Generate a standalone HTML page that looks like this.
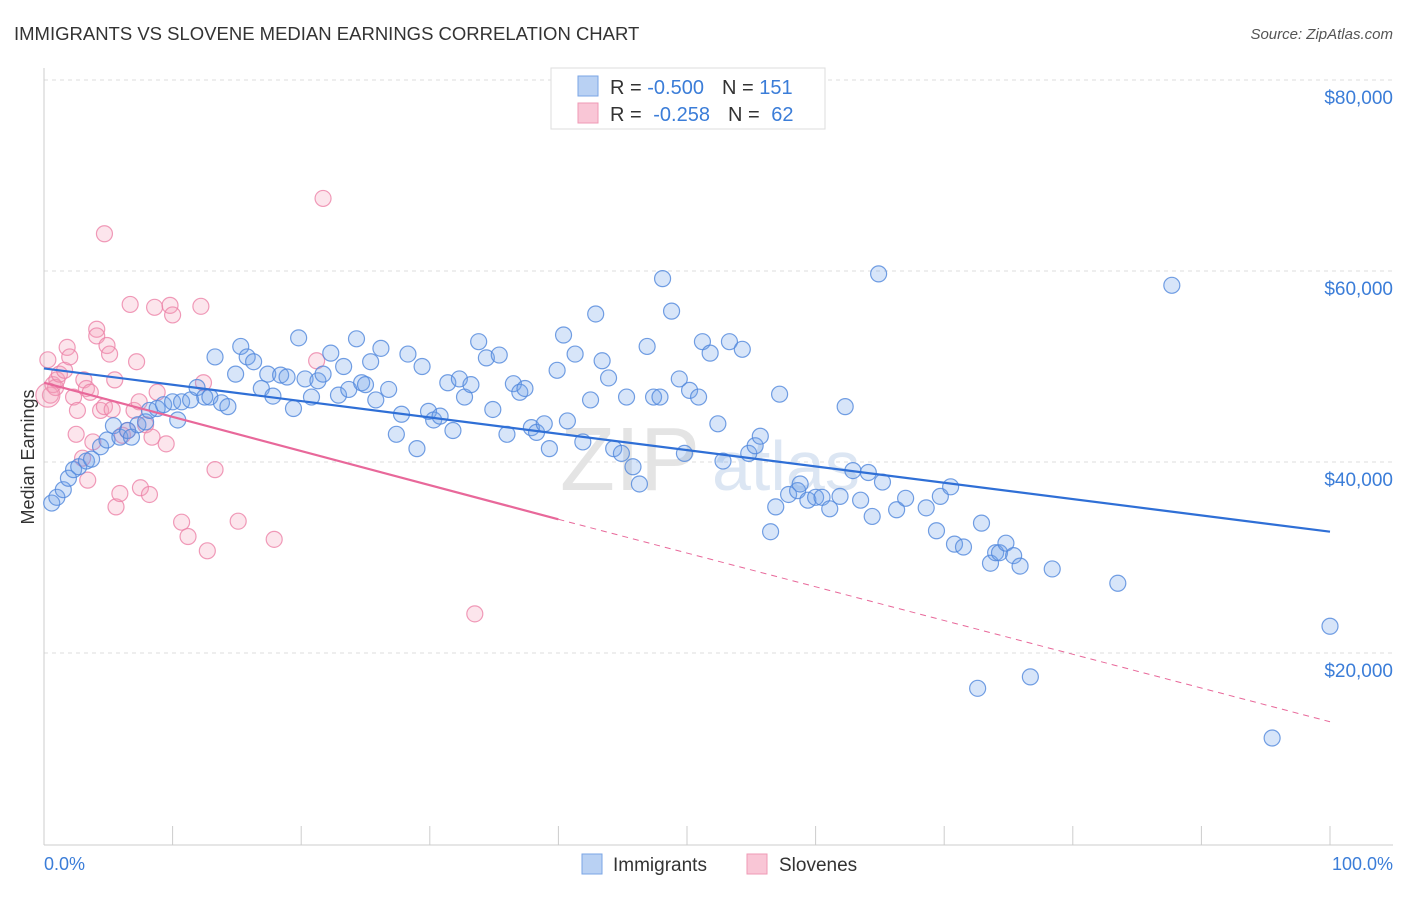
<!DOCTYPE html>
<html><head><meta charset="utf-8"><style>
body{margin:0;background:#fff;font-family:"Liberation Sans",sans-serif;}
svg text{font-family:"Liberation Sans",sans-serif;}
</style></head><body>
<svg id="chart" width="1406" height="892">
<text x="14" y="40" font-size="18.5" fill="#333">IMMIGRANTS VS SLOVENE MEDIAN EARNINGS CORRELATION CHART</text>
<text x="1393" y="39" font-size="15" fill="#555" font-style="italic" text-anchor="end">Source: ZipAtlas.com</text>
<text x="34" y="457" font-size="18" fill="#333" transform="rotate(-90 34 457)" text-anchor="middle">Median Earnings</text>
<g id="grid"></g>
<text x="700" y="490" font-size="90" fill="#e4e4e4" text-anchor="end" font-family="Liberation Serif">ZIP</text>
<text x="712" y="490" font-size="70" fill="#dce6f3">atlas</text>
<g id="marks"></g>
<g>
<rect x="551" y="68" width="274" height="61" fill="#fff" stroke="#ddd"/>
<rect x="578" y="76" width="20" height="20" fill="#b9d1f3" stroke="#7aa5e6"/>
<rect x="578" y="103" width="20" height="20" fill="#f9c6d6" stroke="#ef9ab5"/>
<text x="610" y="94" font-size="20" fill="#333">R = <tspan fill="#3b7dd8">-0.500</tspan><tspan dx="18">N = </tspan><tspan fill="#3b7dd8">151</tspan></text>
<text x="610" y="121" font-size="20" fill="#333">R = <tspan fill="#3b7dd8" dx="6">-0.258</tspan><tspan dx="18">N = </tspan><tspan fill="#3b7dd8" dx="6">62</tspan></text>
</g>
<g>
<rect x="582" y="854" width="20" height="20" fill="#b9d1f3" stroke="#7aa5e6"/>
<text x="613" y="871" font-size="19" fill="#333">Immigrants</text>
<rect x="747" y="854" width="20" height="20" fill="#f9c6d6" stroke="#ef9ab5"/>
<text x="779" y="871" font-size="19" fill="#333">Slovenes</text>
</g>
<text x="44" y="870" font-size="18" fill="#3b7dd8">0.0%</text>
<text x="1393" y="870" font-size="18" fill="#3b7dd8" text-anchor="end">100.0%</text>
</svg>
<script>
const yTicks=[20000,40000,60000,80000];
const yTickLabels=["$20,000","$40,000","$60,000","$80,000"];
const xTicks=[0,10,20,30,40,50,60,70,80,90,100];
const blueX=[0.6,1.0,1.5,1.9,2.3,2.7,3.3,3.7,4.4,4.9,5.4,5.9,6.5,6.8,7.3,7.9,8.2,8.8,9.3,10.0,10.4,10.7,11.4,11.9,12.5,12.9,13.3,13.8,14.3,14.9,15.3,15.8,16.3,16.9,17.4,17.8,18.4,18.9,19.4,19.8,20.3,20.8,21.3,21.7,22.3,22.9,23.3,23.7,24.3,24.7,25.0,25.4,25.8,26.2,26.8,27.4,27.8,28.3,29.0,29.4,29.9,30.3,30.8,31.4,31.8,32.3,32.7,33.2,33.8,34.4,34.9,35.4,36.0,36.5,37.0,37.4,37.9,38.3,38.9,39.3,39.9,40.4,40.7,41.3,41.9,42.5,42.9,43.4,43.9,44.3,44.9,45.3,45.8,46.3,46.9,47.4,47.9,48.1,48.8,49.4,49.8,50.2,50.9,51.2,51.8,52.4,52.8,53.3,54.3,54.8,55.3,55.7,56.5,56.9,57.2,57.9,58.6,58.8,59.4,60.0,60.5,61.1,61.9,62.3,62.9,63.5,64.1,64.4,64.9,65.2,66.3,67.0,68.6,69.4,69.7,70.5,70.8,71.5,72.9,73.6,74.0,74.3,74.8,75.4,75.9,78.4,83.5,72.6,76.7,87.7,100,95.5];
const blueY=[35.7,36.3,37.1,38.3,39.2,39.5,40.1,40.3,41.6,42.3,43.8,42.6,43.3,42.6,43.9,44.2,45.4,45.6,46.0,46.3,44.4,46.3,46.5,47.8,46.8,46.8,51.0,46.2,45.8,49.2,52.1,51.0,50.5,47.7,49.2,46.9,49.1,48.9,45.6,53.0,48.7,46.8,48.5,49.2,51.4,47.0,50.0,47.6,52.9,48.3,48.1,50.5,46.5,51.9,47.6,42.9,45.0,51.3,41.4,50.0,45.3,44.4,44.8,48.3,43.3,48.7,46.8,48.1,52.6,50.9,45.5,51.2,42.9,48.2,47.3,47.7,43.6,43.1,44.0,41.4,49.6,53.3,44.3,51.3,42.1,46.5,55.5,50.6,48.8,41.4,40.9,46.8,39.5,37.7,52.1,46.8,46.8,59.2,55.8,48.7,40.9,47.5,46.8,52.6,51.4,44.0,40.1,52.6,51.8,40.9,41.7,42.7,32.7,35.3,47.1,36.6,37.0,37.7,36.0,36.3,36.3,35.1,36.4,45.8,39.1,36.0,38.9,34.3,59.7,37.9,35.0,36.2,35.2,32.8,36.4,37.4,31.4,31.1,33.6,29.4,30.5,30.5,31.5,30.2,29.1,28.8,27.3,16.3,17.5,58.5,22.8,11.1];
const pinkX=[0.3,0.5,0.7,0.9,1.0,1.2,1.6,1.8,2.0,2.3,2.5,2.6,3.0,3.1,3.3,3.4,3.6,3.8,4.1,4.1,4.4,4.7,4.7,4.9,5.1,5.3,5.5,5.6,5.9,6.1,6.5,6.7,7.0,7.2,7.4,7.5,7.9,8.2,8.4,8.6,8.8,9.5,9.8,10.0,10.7,11.2,12.2,12.4,12.7,13.3,15.1,17.9,21.2,21.7,33.5,0.3];
const pinkY=[50.7,47.0,48.1,47.8,48.6,49.2,49.6,52.0,51.0,46.8,42.9,45.4,40.4,48.6,47.7,38.1,47.3,42.1,53.9,53.2,45.4,63.9,45.8,52.2,51.3,45.5,48.6,35.3,36.7,42.8,43.3,56.5,45.4,50.5,46.3,37.3,43.9,36.6,42.6,56.2,47.3,41.9,56.4,55.4,33.7,32.2,56.3,48.3,30.7,39.2,33.8,31.9,50.6,67.6,24.1,47.0];
const blueTrendX=[0,100], blueTrendY=[49.8,32.7];
const pinkTrendX=[0,40,100], pinkTrendY=[48.3,34.0,12.8];
const NS="http://www.w3.org/2000/svg";
const xs=p=>44+p*12.86;
const ys=v=>844-v*9.55;
function mk(tag,attrs,parent){const e=document.createElementNS(NS,tag);for(const k in attrs)e.setAttribute(k,attrs[k]);parent.appendChild(e);return e;}
const grid=document.getElementById('grid'), marks=document.getElementById('marks');
yTicks.forEach((t,i)=>{
  const y=ys(t/1000);
  const l=mk('line',{x1:44,x2:1393,y1:y,y2:y,stroke:'#ddd','stroke-dasharray':'4,4'},grid);
  
  
  const tx=mk('text',{x:1393,y:y+24,'font-size':19,fill:'#3b7dd8','text-anchor':'end'},grid);
  tx.textContent=yTickLabels[i];
  
  
});
const ax=mk('line',{x1:44,x2:1393,y1:845,y2:845,stroke:'#ccc'},grid);


const ay=mk('line',{x1:44,x2:44,y1:68,y2:845,stroke:'#ccc'},grid);


xTicks.forEach(t=>{
  const k=mk('line',{x1:xs(t),x2:xs(t),y1:826,y2:845,stroke:'#ccc'},grid);
  
  
});
pinkX.forEach((x,i)=>{
  const c=mk('circle',{cx:xs(x),cy:ys(pinkY[i]),r:i===pinkX.length-1?12:8,fill:'rgba(243,160,188,0.28)',stroke:'rgba(236,130,168,0.8)','stroke-width':1.2},marks);
  
  
});
blueX.forEach((x,i)=>{
  const c=mk('circle',{cx:xs(x),cy:ys(blueY[i]),r:8,fill:'rgba(110,160,235,0.28)',stroke:'rgba(80,135,220,0.8)','stroke-width':1.2},marks);
  
  
});
const bt=mk('line',{x1:xs(blueTrendX[0]),y1:ys(blueTrendY[0]),x2:xs(blueTrendX[1]),y2:ys(blueTrendY[1]),stroke:'#2f6fd6','stroke-width':2.2},marks);


const pt=mk('line',{x1:xs(pinkTrendX[0]),y1:ys(pinkTrendY[0]),x2:xs(pinkTrendX[1]),y2:ys(pinkTrendY[1]),stroke:'#e8689a','stroke-width':2.2},marks);


const pd=mk('line',{x1:xs(pinkTrendX[1]),y1:ys(pinkTrendY[1]),x2:xs(pinkTrendX[2]),y2:ys(pinkTrendY[2]),stroke:'#e8689a','stroke-width':1,'stroke-dasharray':'6,5'},marks);


</script>
</body></html>
